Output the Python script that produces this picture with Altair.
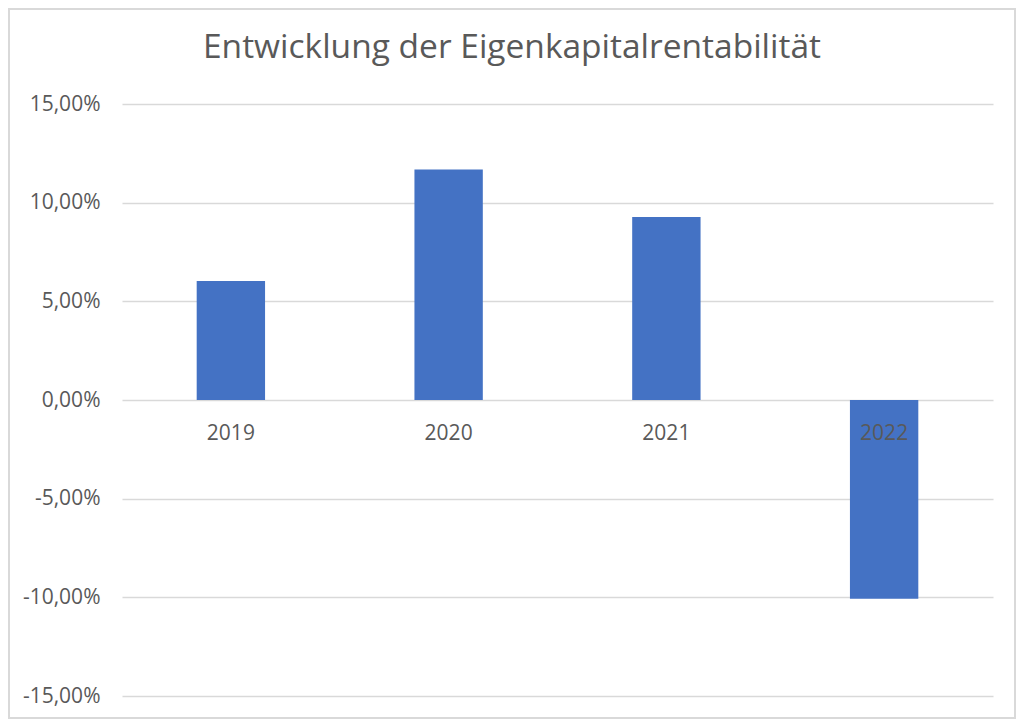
import altair as alt
import pandas as pd

# ---- data ----
years = ["2019", "2020", "2021", "2022"]
values = [0.0603, 0.1168, 0.0927, -0.1007]
y_ticks = [-0.15, -0.10, -0.05, 0.0, 0.05, 0.10, 0.15]
title_text = "Entwicklung der Eigenkapitalrentabilität"

df = pd.DataFrame({"year": years, "value": values})

# ---- layout / style ----
W, H = 871, 592
PAD_L, PAD_T, PAD_R, PAD_B = 114, 96, 23, 23
FONT = "Open Sans"
TEXT_COLOR = "#595959"
GRID_COLOR = "#d9d9d9"
BAR_COLOR = "#4472c4"
LABEL_SIZE = 21

x_enc = alt.X(
    "year:N",
    sort=years,
    axis=None,
    scale=alt.Scale(paddingInner=0.686, paddingOuter=0.343),
)
y_enc = alt.Y(
    "value:Q",
    scale=alt.Scale(domain=[-0.15, 0.15], nice=False, zero=False),
    axis=alt.Axis(
        values=y_ticks,
        title=None,
        domain=False,
        ticks=False,
        grid=True,
        gridColor=GRID_COLOR,
        gridWidth=1.4,
        labelExpr="replace(replace(format(datum.value, '.2%'), '.', ','), '\u2212', '-')",
        labelFont=FONT,
        labelFontSize=LABEL_SIZE,
        labelColor=TEXT_COLOR,
        labelPadding=22,
    ),
)

bars = alt.Chart(df).mark_bar(color=BAR_COLOR).encode(x=x_enc, y=y_enc)

labels = alt.Chart(df).mark_text(
    font=FONT, fontSize=LABEL_SIZE, color=TEXT_COLOR, baseline="middle", dy=34
).encode(x=x_enc, y=alt.datum(0), text="year:N")

frame = alt.Chart(alt.Data(values=[{"k": 1}])).mark_rect(
    fillOpacity=0, stroke=GRID_COLOR, strokeWidth=2
).encode(
    x=alt.value(-PAD_L + 1),
    x2=alt.value(W + PAD_R - 1),
    y=alt.value(-PAD_T + 1),
    y2=alt.value(H + PAD_B - 1),
)

chart = (
    alt.layer(bars, labels, frame)
    .properties(
        width=W,
        height=H,
        padding={"left": PAD_L, "top": PAD_T, "right": PAD_R, "bottom": PAD_B},
        autosize=alt.AutoSizeParams(type="none"),
        title=alt.Title(
            title_text,
            font=FONT,
            fontSize=33.5,
            fontWeight="normal",
            color=TEXT_COLOR,
            anchor="middle",
            frame="bounds",
            baseline="alphabetic",
            offset=-83,
        ),
    )
    .configure(background="white")
    .configure_view(stroke="transparent", strokeWidth=0)
)

chart.save("out.html", embed_options={"renderer": "svg", "actions": False})
